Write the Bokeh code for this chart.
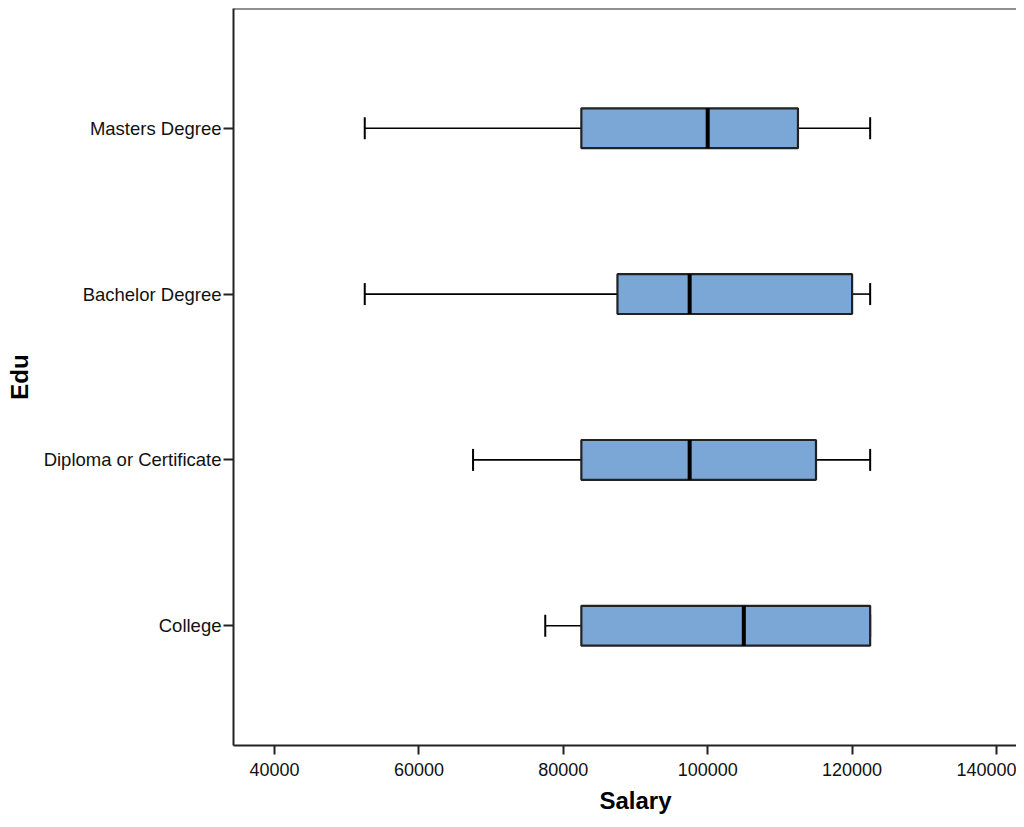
import math
from bokeh.plotting import figure
from bokeh.models import (ColumnDataSource, FactorRange, Range1d, FixedTicker, Span,
                          BasicTickFormatter, Title)
from bokeh.embed import file_html
from bokeh.resources import INLINE

# ---- data ----
categories = ["College", "Diploma or Certificate", "Bachelor Degree", "Masters Degree"]
whisker_low = [77500, 67500, 52500, 52500]
q1 = [82500, 82500, 87500, 82500]
median = [105000, 97500, 97500, 100000]
q3 = [122500, 115000, 120000, 112500]
whisker_high = [122500, 122500, 122500, 122500]
x_ticks = [40000, 60000, 80000, 100000, 120000, 140000]
x_label = "Salary"
y_label = "Edu"

src = ColumnDataSource(dict(cat=categories, lo=whisker_low, q1=q1, med=median,
                            q3=q3, hi=whisker_high))

FONT = "Liberation Sans"
PAD = 0.111
y_range = FactorRange(factors=categories, range_padding=PAD)
y_end = len(categories) + len(categories) * PAD / 2
p = figure(width=1016, height=819, y_range=y_range, x_range=Range1d(34321, 142770),
           output_backend="svg", toolbar_location=None,
           min_border_left=233, min_border_right=0, min_border_top=8, min_border_bottom=73)
p.background_fill_color = "white"
p.border_fill_color = "white"
p.outline_line_color = None
p.xgrid.visible = False
p.ygrid.visible = False

# whiskers
p.segment(x0="lo", y0="cat", x1="q1", y1="cat", source=src, line_color="black", line_width=1.6)
p.segment(x0="q3", y0="cat", x1="hi", y1="cat", source=src, line_color="black", line_width=1.6)
p.scatter(x="lo", y="cat", marker="dash", angle=math.pi / 2, size=22, line_width=2,
          line_color="black", source=src)
p.scatter(x="hi", y="cat", marker="dash", angle=math.pi / 2, size=22, line_width=2,
          line_color="black", source=src)
# boxes
p.hbar(y="cat", left="q1", right="q3", height=0.24, fill_color="#7aa7d5",
       line_color="#222222", line_width=2.2, source=src)
# medians
p.hbar(y="cat", left="med", right="med", height=0.24, fill_color=None,
       line_color="black", line_width=4, source=src)

# top frame line
p.add_layout(Span(location=y_end, dimension="width", line_color="#222222", line_width=2))

for ax in (p.xaxis[0], p.yaxis[0]):
    ax.axis_line_color = "#222222"
    ax.axis_line_width = 2
    ax.major_tick_line_color = "#222222"
    ax.major_tick_line_width = 2
    ax.major_tick_in = 0
    ax.minor_tick_line_color = None
    ax.major_label_text_font = FONT
    ax.major_label_text_color = "#111111"
    ax.axis_label_text_font = FONT
    ax.axis_label_text_font_size = "24px"
    ax.axis_label_text_font_style = "bold"
    ax.axis_label_text_color = "black"

p.xaxis.ticker = FixedTicker(ticks=x_ticks)
p.xaxis.formatter = BasicTickFormatter(use_scientific=False)
p.xaxis.major_tick_out = 9
p.xaxis.major_label_standoff = 8
p.xaxis.major_label_text_font_size = "18px"

p.yaxis.major_tick_out = 10
p.yaxis.major_label_standoff = 2
p.yaxis.major_label_text_font_size = "18.5px"
p.yaxis.axis_label = y_label
p.yaxis.axis_label_standoff = 8

# x-axis title, below the axis
p.add_layout(Title(text=x_label, align="left", offset=366, standoff=12,
                   text_font=FONT, text_font_size="24px", text_font_style="bold",
                   text_color="black"), "below")

open("out.html", "w").write(file_html(p, INLINE))
